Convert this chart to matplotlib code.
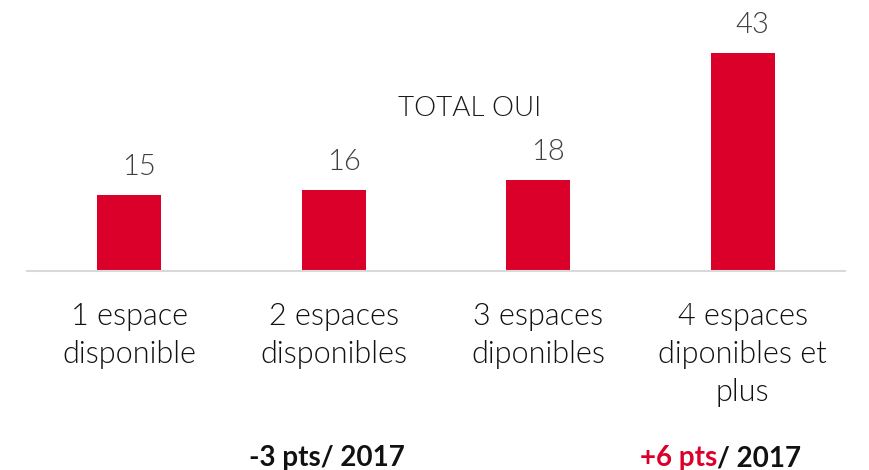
import matplotlib.pyplot as plt

# données
categories = ["1 espace\ndisponible", "2 espaces\ndisponibles",
              "3 espaces\ndiponibles", "4 espaces\ndiponibles et\nplus"]
values = [15, 16, 18, 43]
value_labels = ["15", "16", "18", "43"]

RED = "#DA0029"
plt.rcParams['font.family'] = ['Lato', 'DejaVu Sans']

fig = plt.figure(figsize=(8.69, 4.70), dpi=100)
ax = fig.add_axes([0.0311, 0.4234, 0.9413, 0.5404])

x = list(range(len(values)))
ax.bar(x, values, width=0.313, color=RED)
ax.set_xlim(-0.5, 3.5)
ax.set_ylim(0, 50)

for i, v in enumerate(values):
    ax.annotate(value_labels[i], xy=(i, v), xytext=(7, 20), textcoords='offset points',
                ha='center', va='center', fontsize=21, color='#404040', fontweight=300)

ax.text(1.666, 32, "TOTAL OUI", ha='center', va='center', fontsize=20,
        color='#1a1a1a', fontweight=300)

for s in ['top', 'right', 'left']:
    ax.spines[s].set_visible(False)
ax.spines['bottom'].set_color('#d9d9d9')
ax.spines['bottom'].set_linewidth(1.5)
ax.set_yticks([])
ax.set_xticks(x)
ax.set_xticklabels(categories, fontsize=22, color='#111111', linespacing=1.4,
                   fontweight=300)
ax.tick_params(axis='x', length=0, pad=22)

# évolution vs 2017
fig.text(327 / 869, 1 - 458 / 470, "-3 pts/ 2017", ha='center', va='center',
         fontsize=20, fontweight='bold', color='#111111')
t_red = fig.text(717 / 869, 1 - 458 / 470, "+6 pts", ha='right', va='center',
                 fontsize=20, fontweight='bold', color=RED)
ax.annotate("/ 2017", xy=(1, 0.5), xycoords=t_red, ha='left', va='center',
            fontsize=20, fontweight='bold', color='#111111', annotation_clip=False)

fig.savefig("out.png", dpi=100)
